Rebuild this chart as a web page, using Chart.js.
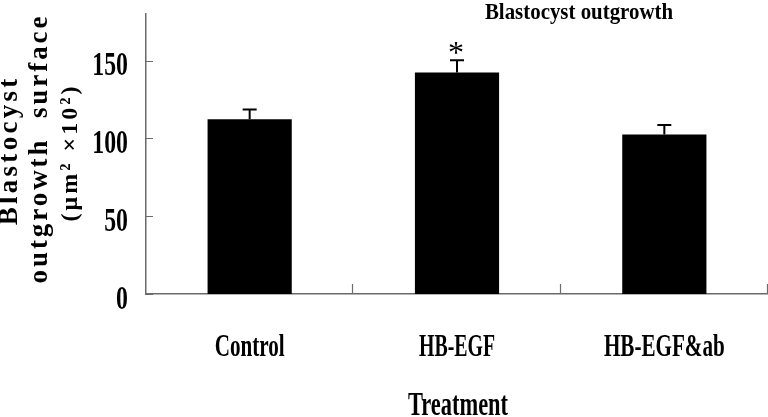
<!DOCTYPE html>
<html>
<head>
<meta charset="utf-8">
<script src="https://cdn.jsdelivr.net/npm/chart.js@4.4.1/dist/chart.umd.min.js"></script>
<style>
  html, body { margin: 0; padding: 0; background: #fff; }
  #wrap { position: relative; width: 768px; height: 417px; }
</style>
</head>
<body>
<div id="wrap"><canvas id="c"></canvas></div>
<script>
  // data
  const categories = ["Control", "HB-EGF", "HB-EGF&ab"];
  const means = [112.4, 142.4, 102.6];
  const errors = [6.2, 7.9, 6.0];
  const signif = ["", "*", ""];
  const yTicks = [0, 50, 100, 150];
  const yMax = 180;
  const chartTitle = "Blastocyst outgrowth";
  const xTitle = "Treatment";
  const yTitle = ["Blastocyst", "outgrowth  surface", "(\u03bcm\u00b2 \u00d710\u00b2)"];

  const SERIF = '"Liberation Serif", "Times New Roman", serif';
  const AXIS = "#6b6b6b";

  // narrow bold serif, like the original figure font
  function condText(ctx, txt, x, y, size, sx, align) {
    ctx.save();
    ctx.font = "bold " + size + "px " + SERIF;
    ctx.textBaseline = "alphabetic";
    ctx.textAlign = align || "center";
    ctx.translate(x, y);
    ctx.scale(sx, 1);
    ctx.fillText(txt, 0, 0);
    ctx.restore();
  }

  // rotated, letter-spaced axis title line
  function spacedVert(ctx, txt, baseX, cy, size, width) {
    ctx.save();
    ctx.font = "bold " + size + "px " + SERIF;
    const w = ctx.measureText(txt).width;
    const sp = Math.max(0, (width - w) / txt.length);
    ctx.letterSpacing = sp + "px";
    ctx.textAlign = "center";
    ctx.textBaseline = "alphabetic";
    ctx.translate(baseX, cy);
    ctx.rotate(-Math.PI / 2);
    ctx.fillText(txt, sp / 2, 0);
    ctx.restore();
  }

  const decor = {
    id: "decor",
    afterDatasetsDraw(chart) {
      const ctx = chart.ctx;
      const xs = chart.scales.x, ys = chart.scales.y;
      const area = chart.chartArea;
      const meta = chart.getDatasetMeta(0);
      ctx.save();
      ctx.fillStyle = "#000";

      // error bars + significance marks
      ctx.strokeStyle = "#000";
      ctx.lineWidth = 2;
      meta.data.forEach((bar, i) => {
        const yTop = ys.getPixelForValue(means[i] + errors[i]);
        const yBar = ys.getPixelForValue(means[i]);
        ctx.beginPath();
        ctx.moveTo(bar.x, yBar);
        ctx.lineTo(bar.x, yTop);
        ctx.moveTo(bar.x - 7, yTop);
        ctx.lineTo(bar.x + 7, yTop);
        ctx.stroke();
        if (signif[i]) {
          ctx.font = "32px " + SERIF;
          ctx.textAlign = "center";
          ctx.textBaseline = "alphabetic";
          const m = ctx.measureText(signif[i]);
          const cy = yTop - 12.5;
          const mid = (m.actualBoundingBoxAscent - m.actualBoundingBoxDescent) / 2;
          ctx.fillText(signif[i], bar.x - 1, cy + mid);
        }
      });

      // inward tick marks
      ctx.strokeStyle = AXIS;
      ctx.lineWidth = 1.2;
      ctx.beginPath();
      yTicks.forEach((v) => {
        const y = Math.round(ys.getPixelForValue(v)) + 0.5;
        ctx.moveTo(area.left, y);
        ctx.lineTo(area.left + 7, y);
      });
      for (let i = 0; i < categories.length; i++) {
        const x = Math.round(xs.getPixelForValue(i + 0.5)) - 0.5;
        ctx.moveTo(x, area.bottom);
        ctx.lineTo(x, area.bottom - 10);
      }
      ctx.stroke();

      // y tick labels
      yTicks.forEach((v) => {
        condText(ctx, String(v), area.left - 18, ys.getPixelForValue(v) + 14.5, 34, 0.7, "right");
      });

      // category labels
      categories.forEach((c, i) => {
        condText(ctx, c, xs.getPixelForValue(i), 356, 32, i === 1 ? 0.62 : 0.66, "center");
      });

      // x title
      condText(ctx, xTitle, xs.getPixelForValue(1) + 1, 415, 34, 0.66, "center");

      // chart title
      condText(ctx, chartTitle, 579, 19, 24, 0.87, "center");

      // y title, three rotated lines
      spacedVert(ctx, yTitle[0], 17, 152, 27, 150);
      spacedVert(ctx, yTitle[1], 47, 150, 27, 270);
      spacedVert(ctx, yTitle[2], 77, 154, 24, 138);

      ctx.restore();
    }
  };

  new Chart(document.getElementById("c"), {
    type: "bar",
    data: {
      labels: categories,
      datasets: [{
        data: means,
        backgroundColor: "#000",
        borderColor: "#000",
        borderWidth: 0,
        barPercentage: 0.406,
        categoryPercentage: 1
      }]
    },
    options: {
      responsive: true,
      maintainAspectRatio: false,
      animation: false,
      layout: { padding: { left: 146, right: 0, top: 14, bottom: 123 } },
      plugins: { legend: { display: false }, tooltip: { enabled: false }, title: { display: false } },
      scales: {
        x: {
          offset: true,
          grid: { display: false, drawTicks: false },
          border: { display: true, color: AXIS, width: 1.5 },
          ticks: { display: false }
        },
        y: {
          min: 0,
          max: yMax,
          grid: { display: false, drawTicks: false },
          border: { display: true, color: AXIS, width: 1.5 },
          ticks: { display: false, stepSize: 50 }
        }
      }
    },
    plugins: [decor]
  });
</script>
</body>
</html>
